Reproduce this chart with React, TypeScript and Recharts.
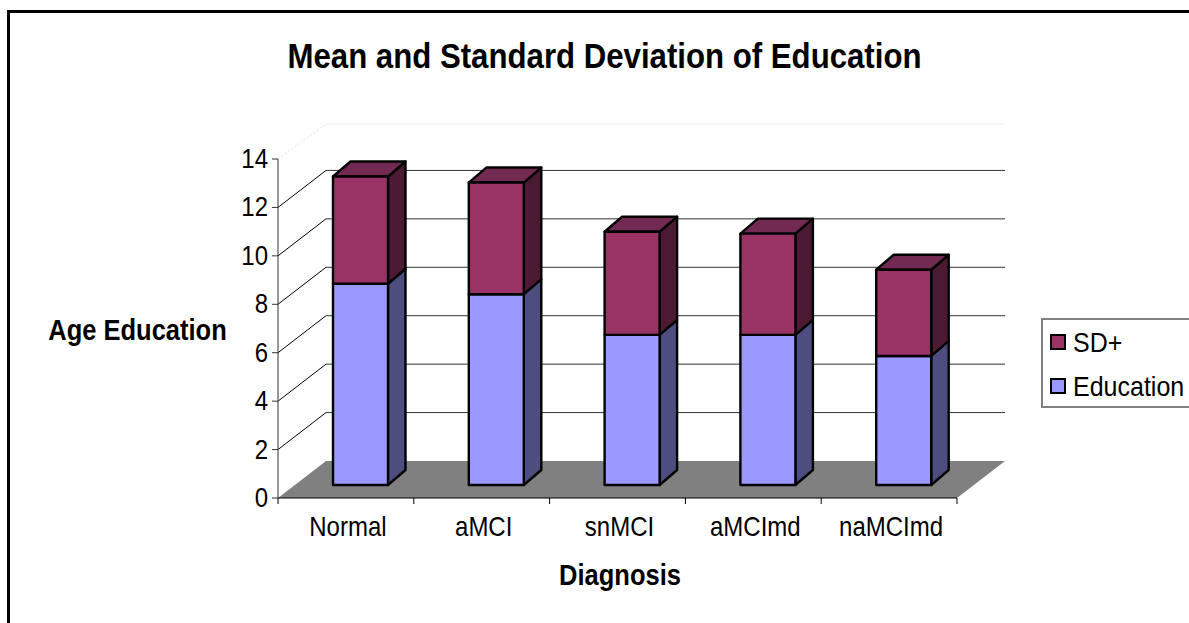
import { Bar, BarChart, CartesianGrid, Legend, XAxis, YAxis } from 'recharts';

const categories = ['Normal', 'aMCI', 'snMCI', 'aMCImd', 'naMCImd'];
const education = [8.31, 7.88, 6.2, 6.2, 5.33];
const sdPlus = [4.43, 4.61, 4.26, 4.18, 3.56];
const yTicks = [0, 2, 4, 6, 8, 10, 12, 14];

const chartData = categories.map((name, i) => ({
  name,
  Education: education[i],
  'SD+': sdPlus[i],
}));

const WIDTH = 1189;
const HEIGHT = 623;
const FONT = '"Liberation Sans", Arial, sans-serif';
const X_AXIS_HEIGHT = 40;
const Y_AXIS_WIDTH = 60;
const margin = { top: 159, right: 232, bottom: 125 - X_AXIS_HEIGHT, left: 278 - Y_AXIS_WIDTH };
const PLOT_LEFT = margin.left + Y_AXIS_WIDTH;
const PLOT_BOTTOM = HEIGHT - margin.bottom - X_AXIS_HEIGHT;
const BAND = (WIDTH - margin.right - PLOT_LEFT) / categories.length;

// Glyphs in this chart are a little taller than they are wide.
const TEXT_STRETCH = 1.13;

// Oblique projection: how far the back wall sits from the front plane,
// how far bars stand off the front edge, and how deep each bar is.
const WALL_DX = 48;
const WALL_DY = 37;
const BAR_DX = 15;
const BAR_DY = 13;
const DEPTH_DX = 17.5;
const DEPTH_DY = 15;

function Label({ x, y, size, bold, anchor = 'middle', children }: any) {
  return (
    <text
      transform={`translate(${x} ${y}) scale(1 ${TEXT_STRETCH})`}
      textAnchor={anchor}
      fontSize={size}
      fontWeight={bold ? 'bold' : 'normal'}
      fontFamily={FONT}
      fill="#000"
    >
      {children}
    </text>
  );
}

function Bar3D({ x, y, width, height, fill, sideFill, topFill }: any) {
  const left = x + BAR_DX;
  const right = left + width;
  const top = y - BAR_DY;
  const bottom = top + height;
  const edge = { stroke: '#000', strokeWidth: 2.4, strokeLinejoin: 'round' as const };
  return (
    <g>
      <polygon
        points={`${right},${top} ${right + DEPTH_DX},${top - DEPTH_DY} ${right + DEPTH_DX},${bottom - DEPTH_DY} ${right},${bottom}`}
        fill={sideFill}
        {...edge}
      />
      {topFill && (
        <polygon
          points={`${left},${top} ${left + DEPTH_DX},${top - DEPTH_DY} ${right + DEPTH_DX},${top - DEPTH_DY} ${right},${top}`}
          fill={topFill}
          {...edge}
        />
      )}
      <rect x={left} y={top} width={width} height={height} fill={fill} {...edge} />
    </g>
  );
}

// Each grid line runs up the side wall and then along the back wall;
// the zero line becomes the floor instead.
function wallLine(props: any) {
  const { x1, x2, y1, key } = props;
  const backY = y1 - WALL_DY;
  if (Math.abs(y1 - PLOT_BOTTOM) < 1) {
    return (
      <polygon
        key={key}
        points={`${x1},${y1} ${x1 + WALL_DX},${backY} ${x2 + WALL_DX},${backY} ${x2},${y1}`}
        fill="#808080"
      />
    );
  }
  if (Math.abs(y1 - margin.top) < 1) {
    return (
      <g key={key}>
        <line x1={x1} y1={y1} x2={x1 + WALL_DX} y2={backY + 2} stroke="#e4e4e4" strokeDasharray="2 2" />
        <line x1={x1 + WALL_DX} y1={backY + 2} x2={x2 + WALL_DX} y2={backY + 2} stroke="#eeeeee" />
      </g>
    );
  }
  return (
    <g key={key}>
      <line x1={x1} y1={y1} x2={x1 + WALL_DX} y2={backY} stroke="#000" />
      <line x1={x1 + WALL_DX} y1={backY} x2={x2 + WALL_DX} y2={backY} stroke="#333" />
    </g>
  );
}

// Category labels sit mid-band, tick marks on the band boundaries.
function CategoryTick({ x, payload, index }: any) {
  const last = index === categories.length - 1;
  return (
    <g>
      <line x1={x - BAND / 2} y1={PLOT_BOTTOM} x2={x - BAND / 2} y2={PLOT_BOTTOM + 6} stroke="#000" />
      {last && <line x1={x + BAND / 2} y1={PLOT_BOTTOM} x2={x + BAND / 2} y2={PLOT_BOTTOM + 6} stroke="#000" />}
      <Label x={x + 2} y={PLOT_BOTTOM + 38} size={24}>
        {payload.value}
      </Label>
    </g>
  );
}

function ValueTick({ x, y, payload }: any) {
  return (
    <Label x={x} y={y + 9} size={24} anchor="end">
      {payload.value}
    </Label>
  );
}

function LegendBox({ payload }: any) {
  const items = [...(payload ?? [])].reverse();
  return (
    <div
      style={{
        boxSizing: 'border-box',
        width: 160,
        height: 90,
        border: '2px solid #808080',
        background: '#fff',
        fontFamily: FONT,
        fontSize: 25,
        color: '#000',
        padding: '0 0 0 7px',
      }}
    >
      {items.map((item: any) => (
        <div key={item.value} style={{ display: 'flex', alignItems: 'center', height: 44 }}>
          <span
            style={{
              boxSizing: 'border-box',
              width: 16,
              height: 16,
              marginRight: 7,
              border: '2px solid #000',
              background: item.color,
            }}
          />
          <span style={{ display: 'inline-block', transform: `scaleY(${TEXT_STRETCH})` }}>{item.value}</span>
        </div>
      ))}
    </div>
  );
}

export default function App() {
  return (
    <div style={{ position: 'absolute', left: 0, top: 0, width: WIDTH, height: HEIGHT, overflow: 'hidden', background: '#fff' }}>
      <BarChart width={WIDTH} height={HEIGHT} data={chartData} margin={margin} barSize={55}>
        <rect x={8.5} y={11.5} width={WIDTH + 20} height={HEIGHT + 20} fill="none" stroke="#000" strokeWidth={3} />
        <CartesianGrid vertical={false} horizontal={wallLine} />
        <XAxis
          dataKey="name"
          axisLine={{ stroke: '#000' }}
          tickLine={false}
          interval={0}
          height={X_AXIS_HEIGHT}
          tick={<CategoryTick />}
        />
        <YAxis
          type="number"
          domain={[0, 14]}
          ticks={yTicks}
          width={Y_AXIS_WIDTH}
          axisLine={{ stroke: '#333' }}
          tickLine={{ stroke: '#333' }}
          tickSize={6}
          tickMargin={4}
          tick={<ValueTick />}
        />
        <Bar
          dataKey="Education"
          stackId="a"
          fill="#9999ff"
          isAnimationActive={false}
          shape={(p: any) => <Bar3D {...p} sideFill="#4d4d80" />}
        />
        <Bar
          dataKey="SD+"
          stackId="a"
          fill="#993366"
          isAnimationActive={false}
          shape={(p: any) => <Bar3D {...p} sideFill="#4d1a33" topFill="#732a52" />}
        />
        <Legend
          layout="vertical"
          align="center"
          verticalAlign="middle"
          content={<LegendBox />}
          wrapperStyle={{ left: 1041, top: 318, width: 160 }}
        />
        <Label x={604.5} y={68} size={31.2} bold>
          Mean and Standard Deviation of Education
        </Label>
        <Label x={137.5} y={340} size={25.5} bold>
          Age Education
        </Label>
        <Label x={620} y={585} size={25.5} bold>
          Diagnosis
        </Label>
      </BarChart>
    </div>
  );
}
